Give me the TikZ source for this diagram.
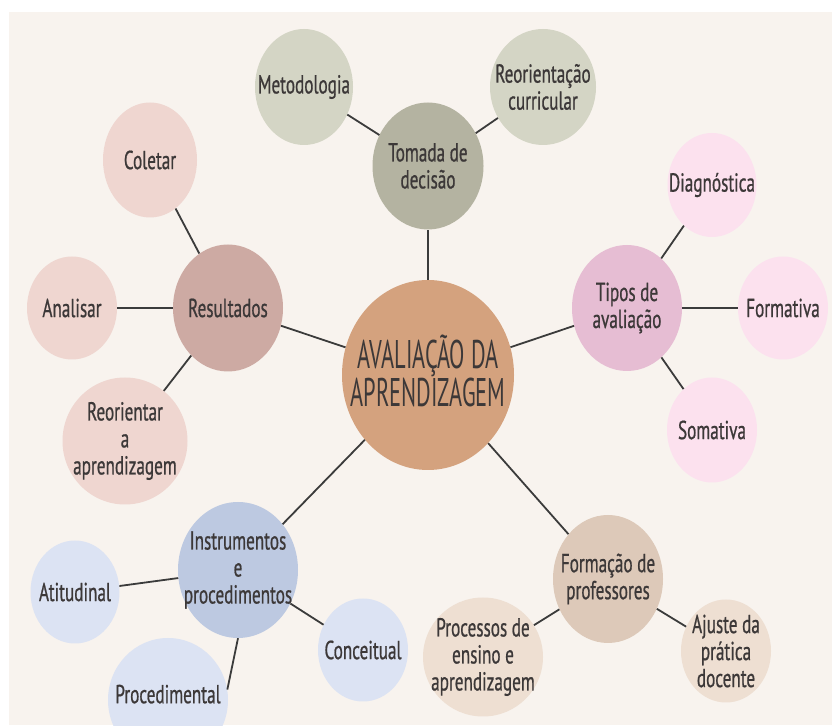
\documentclass[tikz,border=0pt]{standalone}
\usepackage{fontspec}
\setmainfont{PT Sans}[FakeStretch=0.66]
\usepackage{tikz}
\usetikzlibrary{shapes.geometric}
\definecolor{paper}{HTML}{F8F3EE}
\definecolor{txt}{HTML}{3C3838}
\definecolor{wire}{HTML}{3B3B3B}
\definecolor{cmain}{HTML}{D4A27E}
\definecolor{ctom}{HTML}{B4B3A1}
\definecolor{ctoml}{HTML}{D4D5C5}
\definecolor{cres}{HTML}{CDAAA3}
\definecolor{cresl}{HTML}{EFD6D0}
\definecolor{ctip}{HTML}{E6BDD3}
\definecolor{ctipl}{HTML}{FCE1EE}
\definecolor{cins}{HTML}{BDC9E1}
\definecolor{cinsl}{HTML}{DCE3F3}
\definecolor{cfor}{HTML}{DDC9B9}
\definecolor{cforl}{HTML}{EEDFD2}
\tikzset{
  lab/.style={align=center, text=txt, inner sep=0pt,
    font=\fontsize{26}{27}\selectfont\addfontfeature{FakeBold=0.7}},
  bubble/.style={ellipse, inner sep=0pt, label={[lab]center:#1}},
  link/.style={draw=wire, line width=1.8pt}
}
\begin{document}
\begin{tikzpicture}[x=1pt, y=1pt]
\useasboundingbox (0,0) rectangle (832,725);
\clip (0,0) rectangle (832,725);
\fill[white] (0,0) rectangle (832,725);
\fill[paper] (9,0) rectangle (832,713);
\node[ellipse, fill=cmain, minimum width=172, minimum height=190,
  label={[align=center, text=txt, inner sep=0pt, yshift=4pt,
  font=\fontsize{40}{33}\selectfont\addfontfeature{FakeStretch=0.56}]center:AVALIAÇÃO DA\\APRENDIZAGEM}] (ctr) at (428,350) {};
\node[bubble={Tomada de\\decisão}, fill=ctom, minimum width=111, minimum height=127] (tom) at (428,559) {};
\node[bubble=Metodologia, fill=ctoml, minimum width=98, minimum height=116] (met) at (304,638) {};
\node[bubble={Reorientação\\curricular}, fill=ctoml, minimum width=106, minimum height=116] (reo) at (543,638) {};
\node[bubble=Resultados, fill=cres, minimum width=110, minimum height=127] (res) at (228,417) {};
\node[bubble=Coletar, fill=cresl, minimum width=94, minimum height=115] (col) at (150,565) {};
\node[bubble=Analisar, fill=cresl, minimum width=90, minimum height=103] (ana) at (72,417) {};
\node[bubble={Reorientar\\a\\aprendizagem}, fill=cresl, minimum width=125, minimum height=127] (rap) at (125,284) {};
\node[bubble={Tipos de\\avaliação}, fill=ctip, minimum width=110, minimum height=126] (tip) at (627,417) {};
\node[bubble=Diagnóstica, fill=ctipl, minimum width=89, minimum height=104] (dia) at (712,540) {};
\node[bubble=Formativa, fill=ctipl, minimum width=90, minimum height=103] (frm) at (783,417) {};
\node[bubble=Somativa, fill=ctipl, minimum width=90, minimum height=105] (som) at (712,295) {};
\node[bubble={Instrumentos\\e\\procedimentos}, fill=cins, minimum width=120, minimum height=136] (ins) at (238,155) {};
\node[bubble=Atitudinal, fill=cinsl, minimum width=89, minimum height=103] (ati) at (75,133) {};
\node[bubble={\raisebox{12pt}{Procedimental}}, fill=cinsl, minimum width=120, minimum height=124] (prc) at (168,25) {};
\node[bubble=Conceitual, fill=cinsl, minimum width=90, minimum height=103] (con) at (363,75) {};
\node[bubble={Formação de\\professores}, fill=cfor, minimum width=110, minimum height=128] (for) at (608,146) {};
\node[bubble={Processos de\\ensino e\\aprendizagem}, fill=cforl, minimum width=120, minimum height=119] (pen) at (483,68) {};
\node[bubble={Ajuste da\\prática\\docente}, fill=cforl, minimum width=90, minimum height=103] (aju) at (726,74) {};
\draw[link] (ctr) -- (tom);
\draw[link] (tom) -- (met);
\draw[link] (tom) -- (reo);
\draw[link] (ctr) -- (res);
\draw[link] (res) -- (col);
\draw[link] (res) -- (ana);
\draw[link] (res) -- (rap);
\draw[link] (ctr) -- (tip);
\draw[link] (tip) -- (dia);
\draw[link] (tip) -- (frm);
\draw[link] (tip) -- (som);
\draw[link] (ctr) -- (ins);
\draw[link] (ins) -- (ati);
\draw[link] (ins.south) -- (prc.10);
\draw[link] (ins) -- (con);
\draw[link] (ctr) -- (for);
\draw[link] (for) -- (pen);
\draw[link] (for) -- (aju);
\end{tikzpicture}
\end{document}
